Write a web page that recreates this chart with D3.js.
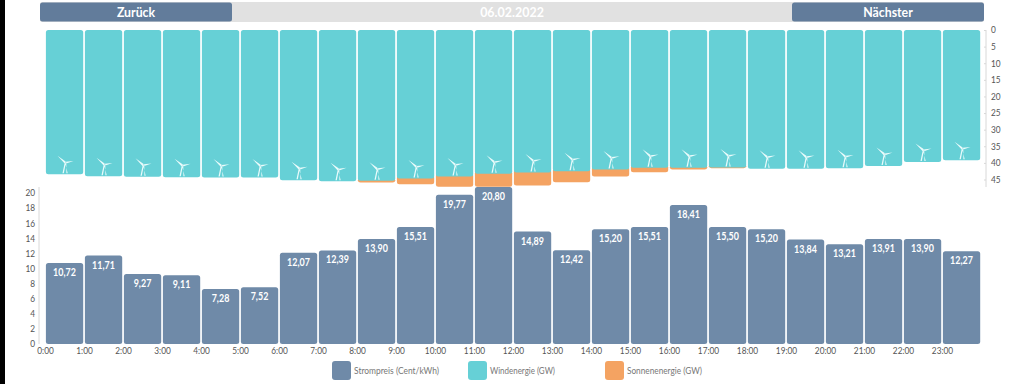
<!DOCTYPE html>
<html><head><meta charset="utf-8">
<script src="https://cdn.jsdelivr.net/npm/d3@7/dist/d3.min.js"></script>
<style>
html,body{margin:0;padding:0;background:#fff}
svg{display:block}
text{font-family:Lato,"Open Sans",sans-serif}
</style></head><body><div id="chart"></div>
<script>
const hours = ["0:00","1:00","2:00","3:00","4:00","5:00","6:00","7:00","8:00","9:00","10:00","11:00","12:00","13:00","14:00","15:00","16:00","17:00","18:00","19:00","20:00","21:00","22:00","23:00"];
const price = [10.72,11.71,9.27,9.11,7.28,7.52,12.07,12.39,13.90,15.51,19.77,20.80,14.89,12.42,15.20,15.51,18.41,15.50,15.20,13.84,13.21,13.91,13.90,12.27];
const wind = [43.4,44.0,44.2,44.3,44.4,44.4,45.2,45.5,45.4,44.7,44.1,43.3,42.9,42.5,42.0,41.5,41.5,41.4,41.8,41.8,41.6,40.9,39.7,39.2];
const solar = [0,0,0,0,0,0,0,0,0.5,1.7,3.1,3.9,3.9,3.3,2.1,1.3,0.5,0.2,0,0,0,0,0,0];
const priceTicks = [0,2,4,6,8,10,12,14,16,18,20];
const windTicks = [0,5,10,15,20,25,30,35,40,45];
const legendLabels = ["Strompreis (Cent/kWh)","Windenergie (GW)","Sonnenenergie (GW)"];
const dateLabel = "06.02.2022", prevLabel = "Zurück", nextLabel = "Nächster";

const C = {price:"#6f8aa8", wind:"#66d0d6", solar:"#f4a362", btn:"#627c9b", head:"#e1e1e1", axis:"#d8d8d8", tick:"#555"};
const svg = d3.select("#chart").append("svg").attr("width",1024).attr("height",384);
svg.append("rect").attr("x",0).attr("y",0).attr("width",5).attr("height",384).attr("fill","#000");

// squeeze Lato towards the narrow rounded face of the original
function narrow(sel,f){
  sel.each(function(){
    const w=this.getComputedTextLength();
    d3.select(this).attr("textLength",w*f).attr("lengthAdjust","spacingAndGlyphs");
  });
}

const x = d3.scaleLinear().domain([0,24]).range([45,981]);
const yW = d3.scaleLinear().domain([0,45]).range([30,179.5]);
const yP = d3.scaleLinear().domain([0,20]).range([344,193]);
const barX = i => x(i)+0.9, barW = x(1)-x(0)-1.7;

// header
svg.append("rect").attr("x",40).attr("y",2).attr("width",944).attr("height",20).attr("rx",2).attr("fill",C.head);
[[40,prevLabel],[792,nextLabel]].forEach(([bx,t])=>{
  svg.append("rect").attr("x",bx).attr("y",2.5).attr("width",192).attr("height",19).attr("rx",2.5).attr("fill",C.btn);
  svg.append("text").attr("x",bx+96).attr("y",17).attr("text-anchor","middle").attr("fill","#fff").attr("font-size",14).attr("font-weight",700).text(t).call(narrow,0.88);
});
svg.append("text").attr("x",512).attr("y",17).attr("text-anchor","middle").attr("fill","#fff").attr("font-size",14).attr("font-weight",700).text(dateLabel).call(narrow,0.89);

// solar (stacked under wind)
svg.append("g").selectAll("rect").data(solar).join("rect")
  .attr("x",(d,i)=>barX(i)).attr("width",barW)
  .attr("y",(d,i)=>yW(wind[i])-3)
  .attr("height",d=>d>0?yW(d)-yW(0)+3:0)
  .attr("rx",2.5).attr("fill",C.solar);
// wind
svg.append("g").selectAll("rect").data(wind).join("rect")
  .attr("x",(d,i)=>barX(i)).attr("width",barW)
  .attr("y",yW(0)).attr("height",d=>yW(d)-yW(0))
  .attr("rx",2.5).attr("fill",C.wind);
// turbines: three tapered blades and a split tower
const turbine = "M-8,-7L0.8,-0.8L-0.8,0.8Z M8,-1.8L0,-1L0,1Z M-3,10.5L-0.8,0L0.4,0L-1.7,10.5Z M2.2,10.5L-0.4,0L0.8,0L0.9,10.5Z";
svg.append("g").selectAll("path").data(wind).join("path")
  .attr("transform",(d,i)=>`translate(${x(i)+20.5},${yW(d)-11.5})`)
  .attr("d",turbine).attr("fill","#eafbfb");

// price bars
svg.append("g").selectAll("rect").data(price).join("rect")
  .attr("x",(d,i)=>barX(i)).attr("width",barW)
  .attr("y",d=>yP(d)).attr("height",d=>yP(0)-yP(d))
  .attr("rx",2.5).attr("fill",C.price);
svg.append("g").selectAll("text").data(price).join("text")
  .attr("x",(d,i)=>x(i)+19.5).attr("y",d=>yP(d)+13)
  .attr("text-anchor","middle").attr("fill","#fff").attr("font-size",10.5).attr("font-weight",700)
  .text(d=>d.toFixed(2).replace(".",",")).call(narrow,0.85);

// axes
function style(g){
  g.selectAll(".domain").attr("stroke",C.axis);
  g.selectAll(".tick line").attr("stroke",C.axis);
  g.selectAll(".tick text").attr("fill",C.tick).attr("font-size",9).call(narrow,0.92);
}
const axisL = svg.append("g").attr("transform","translate(39,0)")
  .call(d3.axisLeft(yP).tickValues(priceTicks).tickSize(0).tickPadding(4).tickFormat(d3.format("d")));
axisL.select(".domain").attr("d","M0,187V344");
style(axisL);
const axisR = svg.append("g").attr("transform","translate(986,0)")
  .call(d3.axisRight(yW).tickValues(windTicks).tickSize(0).tickPadding(5).tickFormat(d3.format("d")));
axisR.select(".domain").attr("d","M0,30V187");
axisR.selectAll(".tick").append("line").attr("x1",-2).attr("x2",0);
style(axisR);
const axisB = svg.append("g").attr("transform","translate(0,344)")
  .call(d3.axisBottom(x).tickValues(d3.range(hours.length)).tickSize(0).tickPadding(4).tickFormat(i=>hours[i]));
axisB.select(".domain").remove();
style(axisB);

// legend
const legX = [332,468,605], legC = [C.price,C.wind,C.solar], legW = [85,65,75];
legendLabels.forEach((t,i)=>{
  svg.append("rect").attr("x",legX[i]).attr("y",361).attr("width",19).attr("height",19).attr("rx",3).attr("fill",legC[i]);
  svg.append("text").attr("x",legX[i]+22).attr("y",374).attr("fill","#777").attr("font-size",10)
    .attr("textLength",legW[i]).attr("lengthAdjust","spacingAndGlyphs").text(t);
});
</script></body></html>
